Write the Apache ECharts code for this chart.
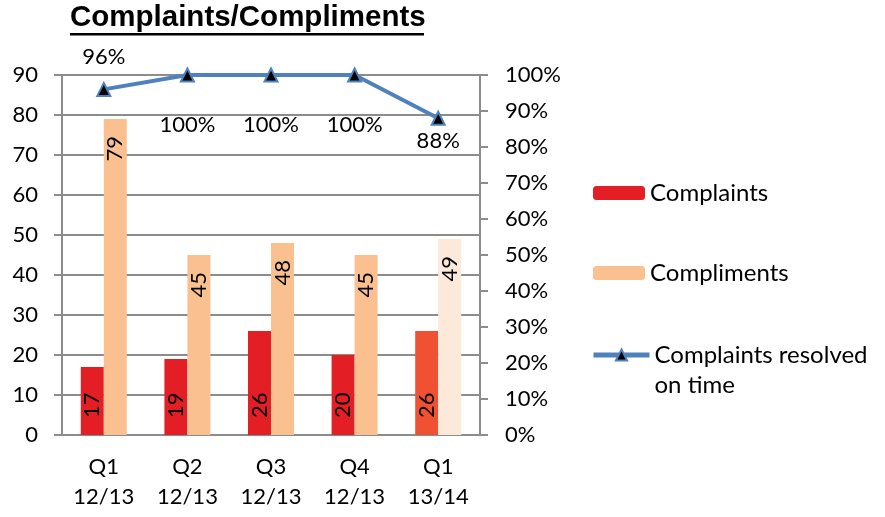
<!DOCTYPE html>
<html>
<head>
<meta charset="utf-8">
<script src="https://cdn.jsdelivr.net/npm/echarts@6/dist/echarts.min.js"></script>
<style>html,body{margin:0;padding:0;background:#fff;}#c{width:885px;height:517px;}</style>
</head>
<body>
<div id="c"></div>
<script>
const categories = ['Q1\n12/13', 'Q2\n12/13', 'Q3\n12/13', 'Q4\n12/13', 'Q1\n13/14'];
const complaints = [17, 19, 26, 20, 26];
const compliments = [79, 45, 48, 45, 49];
const resolvedOnTime = [96, 100, 100, 100, 88];
const leftTicks = { min: 0, max: 90, interval: 10 };
const rightTicks = { min: 0, max: 100, interval: 10 };

const FONT = 'Lato';
const chart = echarts.init(document.getElementById('c'));

const RED = '#E31E24', RED_LAST = '#F05133';
const PEACH = '#FAC090', PEACH_LAST = '#FDE9D9';
const BLUE = '#4F81BD';
const last = categories.length - 1;

const complaintData = complaints.map((v, i) => i === last ? { value: v, itemStyle: { color: RED_LAST } } : v);
const complimentData = compliments.map((v, i) => i === last ? { value: v, itemStyle: { color: PEACH_LAST } } : v);

const lineData = resolvedOnTime.map((v, i) => {
  let label;
  if (i === 0) label = { position: 'top', distance: 14 };
  else if (i === last) label = { position: 'bottom', distance: 4 };
  else label = { position: 'bottom', distance: 31 };
  return { value: v, label };
});

const legendText = { fontSize: 24, lineHeight: 30, fontFamily: FONT, color: '#000' };

chart.setOption({
  animation: false,
  textStyle: { fontFamily: FONT },
  graphic: [
    { type: 'text', left: 70, top: 3, style: { text: 'Complaints/Compliments', font: 'bold 29.5px "Liberation Sans", Arial', fill: '#000' } },
    { type: 'rect', shape: { x: 70, y: 33, width: 354, height: 2.5 }, style: { fill: '#000' } }
  ],
  grid: { left: 62, right: 405, top: 75, bottom: 82 },
  legend: [
    { data: ['Complaints'], left: 588, top: 173, itemWidth: 52, itemHeight: 14, itemGap: 0, textStyle: legendText },
    { data: ['Compliments'], left: 588, top: 253, itemWidth: 52, itemHeight: 14, itemGap: 0, textStyle: legendText },
    { data: ['Complaints resolved\non time'], left: 586, top: 305, itemWidth: 56, itemHeight: 14, itemGap: 0,
      formatter: (name) => ' \n' + name,
      lineStyle: { width: 5, color: BLUE },
      textStyle: legendText }
  ],
  xAxis: {
    type: 'category',
    data: categories,
    axisLine: { lineStyle: { color: '#8c8c8c', width: 2 } },
    axisTick: { length: 8, lineStyle: { color: '#8c8c8c', width: 2 } },
    axisLabel: { fontSize: 22, color: '#000', lineHeight: 30, margin: 17, fontFamily: FONT }
  },
  yAxis: [
    {
      type: 'value', min: leftTicks.min, max: leftTicks.max, interval: leftTicks.interval,
      axisLine: { show: true, lineStyle: { color: '#8c8c8c', width: 2 } },
      axisTick: { show: true, length: 8, lineStyle: { color: '#8c8c8c', width: 2 } },
      axisLabel: { fontSize: 22, color: '#000', margin: 24, fontFamily: FONT },
      splitLine: { lineStyle: { color: '#8c8c8c', width: 2 } }
    },
    {
      type: 'value', min: rightTicks.min, max: rightTicks.max, interval: rightTicks.interval,
      position: 'right',
      axisLine: { show: true, lineStyle: { color: '#8c8c8c', width: 2 } },
      axisTick: { show: true, length: 8, lineStyle: { color: '#8c8c8c', width: 2 } },
      axisLabel: { fontSize: 22, color: '#000', margin: 25, formatter: '{value}%', fontFamily: FONT },
      splitLine: { show: false }
    }
  ],
  series: [
    {
      name: 'Complaints', type: 'bar', barWidth: 23, barGap: '0%',
      itemStyle: { color: RED },
      data: complaintData,
      label: { show: true, position: 'insideBottom', rotate: 90, align: 'left', verticalAlign: 'middle', distance: 17, fontSize: 22, color: '#000', fontFamily: FONT }
    },
    {
      name: 'Compliments', type: 'bar', barWidth: 23, barGap: '0%',
      itemStyle: { color: PEACH },
      data: complimentData,
      label: { show: true, position: 'insideTop', rotate: 90, align: 'right', verticalAlign: 'middle', distance: 17, fontSize: 22, color: '#000', fontFamily: FONT }
    },
    {
      name: 'Complaints resolved\non time', type: 'line', yAxisIndex: 1,
      data: lineData,
      lineStyle: { color: BLUE, width: 4 },
      symbol: 'triangle', symbolSize: 13,
      itemStyle: { color: '#000', borderColor: BLUE, borderWidth: 2 },
      label: { show: true, formatter: '{c}%', fontSize: 22, color: '#000', fontFamily: FONT },
      z: 5
    }
  ]
});
</script>
</body>
</html>
